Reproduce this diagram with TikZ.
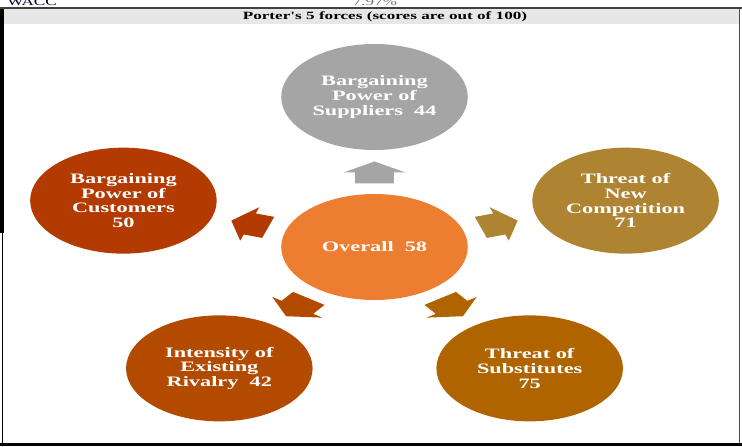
\documentclass[tikz,border=0pt]{standalone}
\usepackage{fontspec}
\setmainfont{Liberation Serif}
\newfontfamily\widefont[FakeStretch=1.55,Ligatures=TeXOff]{Liberation Serif}
\newfontfamily\forcefont[FakeStretch=0.88]{Liberation Serif}
\usepackage{xcolor}

\definecolor{supcol}{HTML}{A5A5A5}
\definecolor{custcol}{HTML}{B33A00}
\definecolor{entcol}{HTML}{AE8432}
\definecolor{ovcol}{HTML}{ED7D31}
\definecolor{rivcol}{HTML}{B24B00}
\definecolor{subcol}{HTML}{AF6400}
\definecolor{bandcol}{HTML}{E7E7E7}

\begin{document}
\begin{tikzpicture}[x=0.75pt,y=-0.75pt,
	force/.style={circle,minimum size=79.5pt,inner sep=0pt,align=center,text=white,
		font=\forcefont\fontsize{10.8pt}{11.1pt}\selectfont\bfseries}]
	\useasboundingbox (0,0) rectangle (742,446);
	\clip (0,0) rectangle (742,446);
	\fill[white] (0,0) rectangle (742,446);
	% table rows above the chart
	\node (wacc) [anchor=base west,inner sep=0pt,text=black!80!blue,font=\widefont\fontsize{8.3pt}{10pt}\selectfont] at (7,5) {WACC};
	\node (rate) [anchor=base,inner sep=0pt,text=black!55,font=\widefont\fontsize{8.3pt}{10pt}\selectfont] at (375,5) {7.97\%};
	\fill[black!75] (0,7) rectangle (742,9);
	\fill[bandcol] (4,9) rectangle (740,24);
	\node (title) [inner sep=0pt,font=\widefont\fontsize{8.3pt}{10pt}\selectfont\bfseries] at (385,16.5) {Porter's 5 forces (scores are out of 100)};
	\fill[black] (0,9) rectangle (4,233);
	\fill[black] (1.5,233) rectangle (3,446);
	\fill[black!70] (738.5,9) rectangle (739.5,446);
	\fill[black] (0,443) rectangle (742,446);
	% the five forces round the overall score
	\begin{scope}[shift={(374.5,247)},xscale=1.76,transform shape]
		\node (ov) [force,fill=ovcol] at (0,0) {Overall~~58};
		\node (sup) [force,fill=supcol] at (90:112.5pt) {Bargaining\\Power of\\Suppliers~~44};
		\node (cust) [force,fill=custcol] at (162:112.5pt) {Bargaining\\Power of\\Customers\\50};
		\node (ent) [force,fill=entcol] at (18:112.5pt) {Threat of\\New\\Competition\\71};
		\node (riv) [force,fill=rivcol] at (234:112.5pt) {Intensity of\\Existing\\Rivalry~~42};
		\node (sub) [force,fill=subcol] at (306:112.5pt) {Threat of\\Substitutes\\75};
		\foreach \a/\c in {90/supcol,162/custcol,18/entcol,234/rivcol,306/subcol}
			\fill[\c,rotate=\a] (64.15pt,0pt) -- (55.9pt,13.2pt) -- (55.9pt,8.3pt) -- (47.65pt,8.3pt)
				-- (47.65pt,-8.3pt) -- (55.9pt,-8.3pt) -- (55.9pt,-13.2pt) -- cycle;
	\end{scope}
\end{tikzpicture}
\end{document}
